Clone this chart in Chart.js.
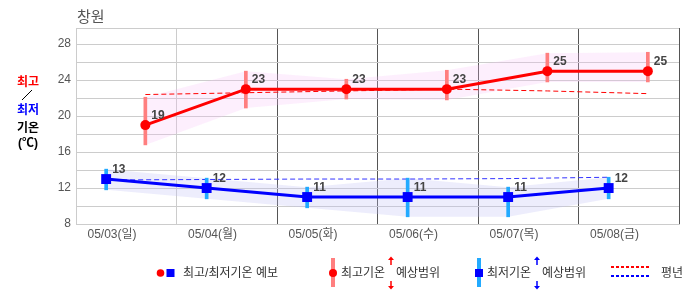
<!DOCTYPE html>
<html lang="ko">
<head>
    <meta charset="UTF-8">
    <title>창원 기온</title>
    <script src="https://cdn.jsdelivr.net/npm/chart.js@4.4.0/dist/chart.umd.min.js"></script>
    <style>
        body {
            margin: 0;
            background-color: #fff;
            font-family: "Liberation Sans", "Noto Sans CJK KR", sans-serif;
        }

        #quadro {
            position: relative;
            width: 686px;
            height: 295px;
        }

        #grafico {
            position: absolute;
            left: 0;
            top: 0;
        }

        .txt {
            position: absolute;
            white-space: nowrap;
            line-height: 1;
        }

        #titulo { left: 77px; top: 9px; font-size: 15px; color: #555; }

        .eixo { left: 8px; width: 40px; text-align: center; font-size: 12px; font-weight: bold; }

        .leg { top: 267px; font-size: 12px; color: #333; }
    </style>
</head>
<body>
    <div id="quadro">
        <canvas id="grafico" width="686" height="295"></canvas>

        <div class="txt" id="titulo">창원</div>

        <div class="txt eixo" style="top:76px; color:#ff0000;">최고</div>
        <div class="txt eixo" style="top:104px; color:#0000ff;">최저</div>
        <div class="txt eixo" style="top:122px; color:#000;">기온</div>
        <div class="txt eixo" style="top:137px; color:#000;">(℃)</div>

        <div class="txt leg" style="left:183px;">최고/최저기온 예보</div>
        <div class="txt leg" style="left:341px;">최고기온</div>
        <div class="txt leg" style="left:396px;">예상범위</div>
        <div class="txt leg" style="left:487px;">최저기온</div>
        <div class="txt leg" style="left:542px;">예상범위</div>
        <div class="txt leg" style="left:661px;">평년</div>
    </div>

    <script>
        // dados
        const dias = ['05/03(일)', '05/04(월)', '05/05(화)', '05/06(수)', '05/07(목)', '05/08(금)'];

        const maxPrev = [19, 23, 23, 23, 25, 25];
        const minPrev = [13, 12, 11, 11, 11, 12];

        // faixa prevista (barras e sombra)
        const maxAlto = [22.1, 25.0, 24.1, 25.1, 27.0, 27.1];
        const maxBaixo = [16.8, 20.9, 21.9, 21.8, 23.8, 23.8];
        const minAlto = [14.1, 13.1, 12.1, 13.1, 12.1, 13.2];
        const minBaixo = [11.8, 10.8, 9.8, 8.8, 8.8, 10.8];

        // normal (평년)
        const maxNormal = [22.4, 22.6, 22.8, 23.0, 22.8, 22.5];
        const minNormal = [12.9, 12.95, 13.0, 13.0, 13.05, 13.2];

        const yTicks = [8, 12, 16, 20, 24, 28];
        const yMin = 8;
        const yMax = 29.8;

        // posicao dentro de cada dia
        const posMax = 0.69;
        const posMin = 0.30;

        function pontos(valores, desl) {
            return valores.map((v, i) => ({ x: i + desl, y: v }));
        }

        function faixa(baixo, alto, desl) {
            return baixo.map((v, i) => ({ x: i + desl, y: [v, alto[i]] }));
        }

        // numeros ao lado dos pontos + simbolos da legenda
        const extras = {
            id: 'extras',
            afterDatasetsDraw(chart) {
                const c = chart.ctx;
                c.save();
                c.font = 'bold 12px "Liberation Sans", sans-serif';
                c.fillStyle = '#444';
                chart.data.datasets.forEach((ds, i) => {
                    if (!ds.rotulo) return;
                    chart.getDatasetMeta(i).data.forEach((p, j) => {
                        c.fillText(ds.data[j].y, p.x + 6, p.y - 6);
                    });
                });
                c.restore();
            },
            afterDraw(chart) {
                const c = chart.ctx;
                c.save();

                // barra do titulo do eixo
                c.strokeStyle = '#000';
                c.lineWidth = 1;
                c.beginPath();
                c.moveTo(22, 100);
                c.lineTo(32, 90);
                c.stroke();

                // legenda: previsao
                c.fillStyle = '#ff0000';
                c.beginPath();
                c.arc(160.5, 273, 3.8, 0, Math.PI * 2);
                c.fill();
                c.fillStyle = '#0000ff';
                c.fillRect(166.5, 269, 8, 8);

                // legenda: faixa maxima
                c.fillStyle = '#ff7f7f';
                c.fillRect(331, 258, 4, 29);
                c.fillStyle = '#ff0000';
                c.beginPath();
                c.arc(333, 273, 4, 0, Math.PI * 2);
                c.fill();
                seta(c, 391, '#ff0000');

                // legenda: faixa minima
                c.fillStyle = '#22aaff';
                c.fillRect(477, 258, 4, 29);
                c.fillStyle = '#0000ff';
                c.fillRect(475, 269, 8, 8);
                seta(c, 537, '#0000ff');

                // legenda: normal
                c.lineWidth = 2;
                c.setLineDash([3, 2]);
                c.strokeStyle = '#ff0000';
                c.beginPath();
                c.moveTo(611, 267);
                c.lineTo(649, 267);
                c.stroke();
                c.strokeStyle = '#0000ff';
                c.beginPath();
                c.moveTo(611, 276);
                c.lineTo(649, 276);
                c.stroke();

                c.restore();
            }
        };

        function seta(c, x, cor) {
            c.strokeStyle = cor;
            c.fillStyle = cor;
            c.lineWidth = 1.5;
            c.beginPath();
            c.moveTo(x, 259);
            c.lineTo(x, 265);
            c.moveTo(x, 281);
            c.lineTo(x, 287);
            c.stroke();
            c.beginPath();
            c.moveTo(x - 3, 260);
            c.lineTo(x, 256.5);
            c.lineTo(x + 3, 260);
            c.closePath();
            c.fill();
            c.beginPath();
            c.moveTo(x - 3, 286);
            c.lineTo(x, 289.5);
            c.lineTo(x + 3, 286);
            c.closePath();
            c.fill();
        }

        Chart.defaults.font.family = '"Liberation Sans", "Noto Sans CJK KR", sans-serif';

        const ctx = document.getElementById('grafico').getContext('2d');

        const grafico = new Chart(ctx, {
            type: 'line',
            data: {
                datasets: [
                    {
                        data: pontos(maxAlto, posMax),
                        borderWidth: 0,
                        pointRadius: 0,
                        fill: '+1',
                        backgroundColor: 'rgba(245, 190, 245, 0.24)',
                        order: 10
                    },
                    {
                        data: pontos(maxBaixo, posMax),
                        borderWidth: 0,
                        pointRadius: 0,
                        fill: false,
                        order: 10
                    },
                    {
                        data: pontos(minAlto, posMin),
                        borderWidth: 0,
                        pointRadius: 0,
                        fill: '+1',
                        backgroundColor: 'rgba(190, 190, 245, 0.28)',
                        order: 10
                    },
                    {
                        data: pontos(minBaixo, posMin),
                        borderWidth: 0,
                        pointRadius: 0,
                        fill: false,
                        order: 10
                    },
                    {
                        data: pontos(maxNormal, posMax),
                        borderColor: '#ff0000',
                        borderWidth: 1,
                        borderDash: [5, 3],
                        pointRadius: 0,
                        fill: false,
                        order: 8
                    },
                    {
                        data: pontos(minNormal, posMin),
                        borderColor: '#3333ff',
                        borderWidth: 1,
                        borderDash: [5, 3],
                        pointRadius: 0,
                        fill: false,
                        order: 8
                    },
                    {
                        type: 'bar',
                        data: faixa(maxBaixo, maxAlto, posMax),
                        backgroundColor: '#ff7f7f',
                        barThickness: 3,
                        grouped: false,
                        order: 6
                    },
                    {
                        type: 'bar',
                        data: faixa(minBaixo, minAlto, posMin),
                        backgroundColor: '#22aaff',
                        barThickness: 3,
                        grouped: false,
                        order: 6
                    },
                    {
                        data: pontos(maxPrev, posMax),
                        borderColor: '#ff0000',
                        borderWidth: 3,
                        pointRadius: 5,
                        pointBackgroundColor: '#ff0000',
                        pointBorderWidth: 0,
                        fill: false,
                        rotulo: true,
                        order: 2
                    },
                    {
                        data: pontos(minPrev, posMin),
                        borderColor: '#0000ff',
                        borderWidth: 3,
                        pointStyle: 'rect',
                        pointRadius: 7,
                        pointBackgroundColor: '#0000ff',
                        pointBorderWidth: 0,
                        fill: false,
                        rotulo: true,
                        order: 2
                    }
                ]
            },
            options: {
                responsive: false,
                animation: false,
                layout: {
                    padding: { left: 0, top: 28, right: 4, bottom: 41 }
                },
                plugins: {
                    legend: { display: false },
                    tooltip: { enabled: false }
                },
                scales: {
                    x: {
                        type: 'linear',
                        min: 0,
                        max: dias.length,
                        offset: false,
                        afterBuildTicks: s => {
                            s.ticks = dias.map((d, i) => ({ value: i })).concat([{ value: dias.length }]);
                        },
                        ticks: {
                            callback: v => dias[v] || '',
                            labelOffset: 36,
                            padding: 3,
                            maxRotation: 0,
                            autoSkip: false,
                            color: '#555',
                            font: { size: 12 }
                        },
                        grid: {
                            offset: false,
                            drawTicks: false,
                            color: c => (c.tick && c.tick.value >= 2) ? '#555' : '#ccc'
                        },
                        border: { color: '#ccc' },
                        afterFit: s => { s.height = 30; }
                    },
                    y: {
                        min: yMin,
                        max: yMax,
                        afterBuildTicks: s => {
                            const t = [];
                            for (let v = yMin; v <= yTicks[yTicks.length - 1]; v += 2) t.push({ value: v });
                            t.push({ value: yMax });
                            s.ticks = t;
                        },
                        ticks: {
                            callback: v => yTicks.includes(v) ? v : '',
                            padding: 5,
                            color: '#555',
                            font: { size: 12 }
                        },
                        grid: { color: '#ccc', drawTicks: false },
                        border: { color: '#ccc' },
                        afterFit: s => { s.width = 76; }
                    }
                }
            },
            plugins: [extras]
        });
    </script>
</body>
</html>
